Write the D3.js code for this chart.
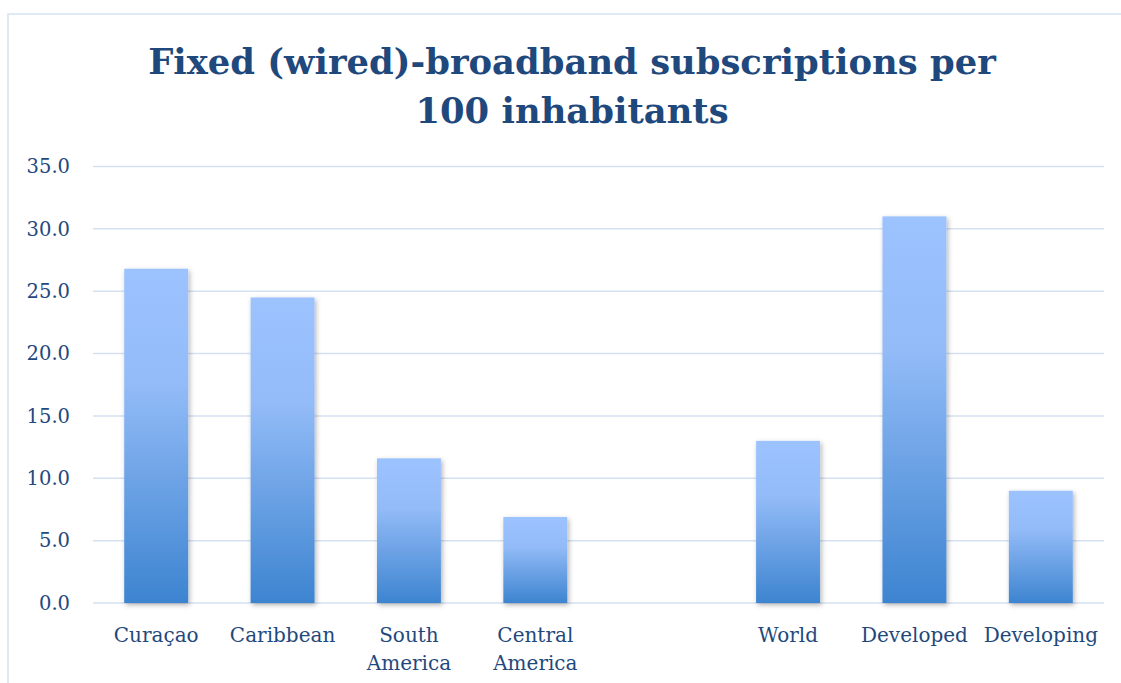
<!DOCTYPE html>
<html>
<head>
<meta charset="utf-8">
<script src="https://cdn.jsdelivr.net/npm/d3@7"></script>
<style>
	body { margin: 0; background: #fff; }
	svg { display: block; }
</style>
</head>
<body>
<div id="chart"></div>
<script>

// data
var categories = ["Curaçao", "Caribbean", "South America", "Central America", "", "World", "Developed", "Developing"]
var values = [26.8, 24.5, 11.6, 6.9, null, 13.0, 31.0, 9.0]
var yTicks = [0, 5, 10, 15, 20, 25, 30, 35]
var titleLines = ["Fixed (wired)-broadband subscriptions per", "100 inhabitants"]

var width = 1121, height = 683
var textColor = "#1F497D"
var serif = "DejaVu Serif, Liberation Serif, serif"

var svg = d3.select("#chart").append("svg")
	.attr("width", width)
	.attr("height", height)

var defs = svg.append("defs")
var grad = defs.append("linearGradient")
	.attr("id", "barGrad")
	.attr("x1", 0).attr("y1", 0).attr("x2", 0).attr("y2", 1)
grad.append("stop").attr("offset", "0%").attr("stop-color", "#9DC3FF")
grad.append("stop").attr("offset", "35%").attr("stop-color", "#92BBF7")
grad.append("stop").attr("offset", "100%").attr("stop-color", "#3D84D0")

var shadow = defs.append("filter").attr("id", "shadow")
	.attr("x", "-20%").attr("y", "-5%").attr("width", "140%").attr("height", "115%")
shadow.append("feDropShadow")
	.attr("dx", 1.5).attr("dy", 2)
	.attr("stdDeviation", 2.5)
	.attr("flood-color", "#000")
	.attr("flood-opacity", 0.3)

// chart frame
svg.append("rect")
	.attr("x", 8).attr("y", 14)
	.attr("width", 1300).attr("height", 900)
	.attr("fill", "none")
	.attr("stroke", "#D6E3F4")
	.attr("stroke-width", 1.5)

var plot = { left: 93, right: 1104, top: 166.5, bottom: 603 }

var x = d3.scaleBand()
	.domain(d3.range(categories.length))
	.range([plot.left, plot.right])
	.paddingInner(0.494)
	.paddingOuter(0.247)

var y = d3.scaleLinear()
	.domain([0, 35])
	.range([plot.bottom, plot.top])

// gridlines
svg.append("g")
	.selectAll("line")
	.data(yTicks)
	.enter().append("line")
		.attr("x1", plot.left)
		.attr("x2", plot.right)
		.attr("y1", function (d) { return y(d) })
		.attr("y2", function (d) { return y(d) })
		.attr("stroke", "#D5E1F1")
		.attr("stroke-width", 1.5)

// y axis labels
var yAxis = d3.axisLeft(y)
	.tickValues(yTicks)
	.tickFormat(d3.format(".1f"))
	.tickSize(0)
	.tickPadding(0)

var yg = svg.append("g")
	.attr("transform", "translate(70,0)")
	.call(yAxis)
yg.select(".domain").remove()
yg.selectAll("text")
	.attr("fill", textColor)
	.style("font-family", serif)
	.style("font-size", "19.5px")

// bars
svg.append("g")
	.selectAll("rect")
	.data(values.map(function (v, i) { return { i: i, v: v } }).filter(function (d) { return d.v != null }))
	.enter().append("rect")
		.attr("x", function (d) { return x(d.i) })
		.attr("width", x.bandwidth())
		.attr("y", function (d) { return y(d.v) })
		.attr("height", function (d) { return y(0) - y(d.v) })
		.attr("fill", "url(#barGrad)")
		.attr("filter", "url(#shadow)")

// category labels, wrapped on spaces
var catG = svg.append("g")
categories.forEach(function (c, i) {
	if (!c) return
	var t = catG.append("text")
		.attr("x", x(i) + x.bandwidth() / 2)
		.attr("y", 642)
		.attr("text-anchor", "middle")
		.attr("fill", textColor)
		.style("font-family", serif)
		.style("font-size", "20px")
	var words = c.split(" ")
	words.forEach(function (w, k) {
		t.append("tspan")
			.attr("x", x(i) + x.bandwidth() / 2)
			.attr("dy", k == 0 ? 0 : 28)
			.text(w)
	})
})

// title
var title = svg.append("g")
var baselines = [74, 123]
titleLines.forEach(function (line, k) {
	title.append("text")
		.attr("x", 572)
		.attr("y", baselines[k])
		.attr("text-anchor", "middle")
		.attr("fill", textColor)
		.style("font-family", serif)
		.style("font-weight", "bold")
		.style("font-size", "40px")
		.text(line)
})
// scale the title so the first line spans about the same width as the picture
var first = title.select("text").node()
var w0 = first.getComputedTextLength()
var fs = 40 * 848 / w0
title.selectAll("text").style("font-size", fs + "px")

</script>
</body>
</html>
